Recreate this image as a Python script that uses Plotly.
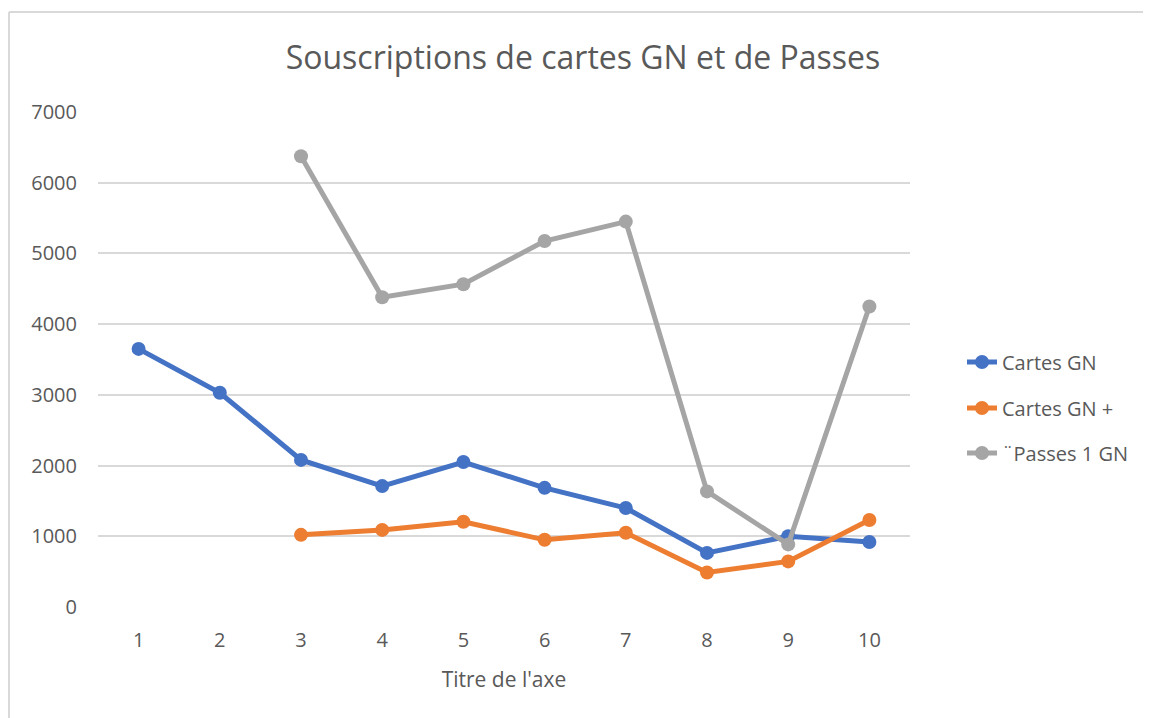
import plotly.graph_objects as go

categories = [1, 2, 3, 4, 5, 6, 7, 8, 9, 10]
cartes_gn = [3650, 3030, 2080, 1710, 2050, 1685, 1400, 765, 1000, 920]
cartes_gn_plus = [None, None, 1020, 1090, 1205, 950, 1050, 488, 645, 1230]
passes_1_gn = [None, None, 6375, 4380, 4565, 5175, 5450, 1635, 885, 4250]
series_names = ["Cartes GN", "Cartes GN +", "¨Passes 1 GN"]
colors = ["#4472C4", "#ED7D31", "#A5A5A5"]
y_ticks = [0, 1000, 2000, 3000, 4000, 5000, 6000, 7000]

FONT = "Open Sans"
TXT = "#595959"
OFF = 8  # page offset of the figure in the browser

fig = go.Figure()
legends = ["legend", "legend2", "legend3"]
for name, vals, col, lg in zip(series_names, [cartes_gn, cartes_gn_plus, passes_1_gn], colors, legends):
    fig.add_trace(go.Scatter(
        x=categories, y=vals, name=name, mode="lines+markers",
        line=dict(color=col, width=5), marker=dict(color=col, size=14),
        connectgaps=False, legend=lg,
    ))

# plot area (screen px) 98..910, 112..607
def lx(px):
    return (px - 98) / 812
def ly(py):
    return (607 - py) / 495

W, H = 1151 - OFF, 718 - OFF

leg_common = dict(xanchor="left", yanchor="middle", bgcolor="rgba(0,0,0,0)",
                  font=dict(family=FONT, size=20, color=TXT), itemwidth=30)

fig.update_layout(
    width=W, height=H,
    margin=dict(l=98 - OFF, r=W - (910 - OFF), t=112 - OFF, b=H - (607 - OFF)),
    paper_bgcolor="white", plot_bgcolor="white",
    title=dict(text="Souscriptions de cartes GN et de Passes", x=(583 - OFF) / W, xanchor="center",
               y=1 - (58 - OFF) / H, yanchor="middle",
               font=dict(family=FONT, size=32, color=TXT)),
    xaxis=dict(range=[0.5, 10.5], tickmode="array", tickvals=categories,
               ticktext=[str(c) for c in categories], showgrid=False, zeroline=False,
               showline=False, ticks="", ticklabelstandoff=19,
               tickfont=dict(family=FONT, size=20, color=TXT),
               title=dict(text="Titre de l'axe", font=dict(family=FONT, size=21, color=TXT), standoff=20)),
    yaxis=dict(range=[0, 7000], tickmode="array", tickvals=y_ticks,
               showgrid=True, gridcolor="#D9D9D9", gridwidth=2, zeroline=False,
               showline=False, ticks="", ticklabelstandoff=20,
               tickfont=dict(family=FONT, size=20, color=TXT)),
    legend=dict(x=lx(962), y=ly(362), **leg_common),
    legend2=dict(x=lx(962), y=ly(408), **leg_common),
    legend3=dict(x=lx(962), y=ly(453), **leg_common),
    showlegend=True,
)

# outer chart border (only top and left edges are visible in the crop)
border = dict(color="#D9D9D9", width=2)
fig.add_shape(type="line", xref="paper", yref="paper",
              x0=lx(9), x1=lx(1300), y0=ly(12), y1=ly(12), line=border, layer="below")
fig.add_shape(type="line", xref="paper", yref="paper",
              x0=lx(9), x1=lx(9), y0=ly(12), y1=ly(800), line=border, layer="below")

fig.write_html("out.html")
